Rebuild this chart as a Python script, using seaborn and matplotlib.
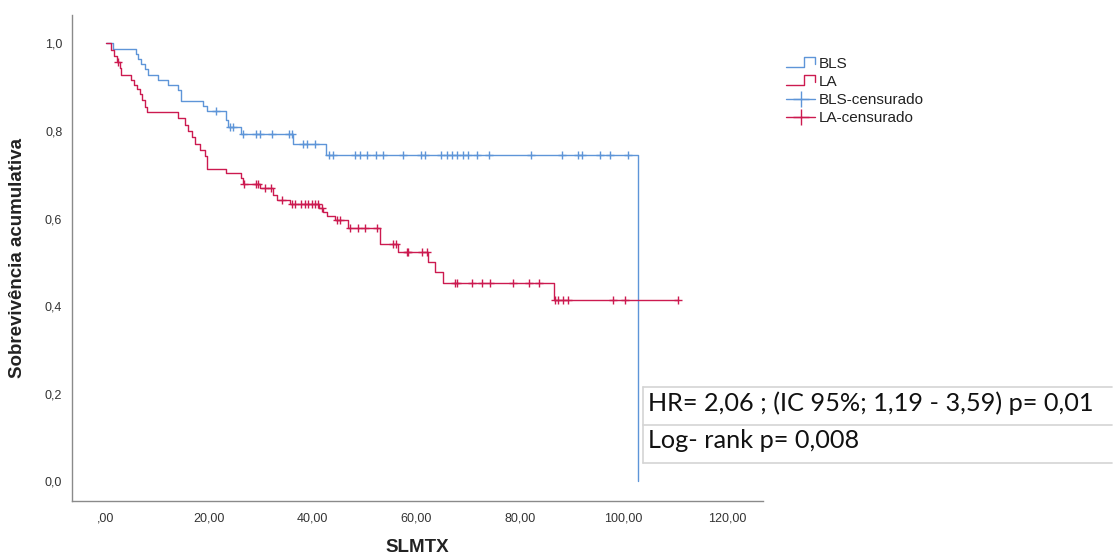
import numpy as np
import pandas as pd
import matplotlib
matplotlib.use("Agg")
import matplotlib.pyplot as plt
from matplotlib.lines import Line2D
from matplotlib.legend_handler import HandlerBase
import seaborn as sns

# ---- Kaplan-Meier data (time in months, survival after each event) ----
groups = ["BLS", "LA"]

bls_event_t = [1.4, 5.9, 6.3, 6.9, 7.5, 8.2, 10.1, 12.0, 14.0, 14.6, 18.8, 19.5,
               23.3, 23.6, 26.2, 36.2, 42.6, 102.8]
bls_surv = [0.988, 0.976, 0.964, 0.953, 0.941, 0.929, 0.917, 0.905, 0.893, 0.869,
            0.857, 0.845, 0.826, 0.810, 0.794, 0.771, 0.745, 0.0]
bls_cens_t = [21.3, 24.0, 24.6, 26.5, 29.1, 29.8, 32.2, 35.4, 35.9, 38.1, 38.8,
              40.4, 43.1, 43.9, 48.1, 49.1, 50.4, 52.2, 53.5, 57.4, 60.9, 61.6,
              64.7, 65.9, 66.9, 67.8, 69.0, 69.9, 71.7, 74.0, 82.1, 88.1, 91.2,
              92.0, 95.5, 97.4, 100.9]

la_event_t = [1.1, 1.7, 2.1, 2.7, 3.0, 4.8, 5.4, 6.0, 6.6, 7.1, 7.5, 7.9, 13.9,
              15.3, 15.9, 16.6, 17.2, 18.2, 19.1, 19.5, 23.3, 26.2, 26.5, 29.8,
              32.3, 33.0, 35.6, 41.2, 41.9, 42.8, 44.3, 46.8, 52.9, 56.5, 62.3,
              63.6, 65.2, 86.6]
la_surv = [0.986, 0.971, 0.957, 0.943, 0.929, 0.917, 0.906, 0.896, 0.884, 0.870,
           0.856, 0.843, 0.829, 0.814, 0.800, 0.786, 0.771, 0.757, 0.743, 0.714,
           0.703, 0.692, 0.680, 0.669, 0.654, 0.643, 0.634, 0.625, 0.615, 0.606,
           0.596, 0.579, 0.543, 0.524, 0.501, 0.478, 0.453, 0.413]
la_cens_t = [2.3, 26.7, 29.1, 29.4, 30.7, 32.0, 34.0, 35.9, 36.6, 37.8, 38.5,
             39.1, 39.8, 40.4, 41.0, 41.7, 44.6, 45.2, 47.1, 48.8, 50.0, 52.3,
             55.4, 56.0, 58.1, 58.4, 61.0, 62.0, 67.4, 67.8, 70.7, 72.6, 74.2,
             78.7, 81.8, 83.7, 86.8, 87.3, 88.3, 89.3, 98.0, 100.3, 110.5]

x_ticks = [0, 20, 40, 60, 80, 100, 120]
x_tick_labels = [",00", "20,00", "40,00", "60,00", "80,00", "100,00", "120,00"]
y_ticks = [0.0, 0.2, 0.4, 0.6, 0.8, 1.0]
y_tick_labels = ["0,0", "0,2", "0,4", "0,6", "0,8", "1,0"]

hr_text = "HR= 2,06 ; (IC 95%; 1,19 - 3,59) p= 0,01"
logrank_text = "Log- rank p= 0,008"

colors = {"BLS": "#5e95d8", "LA": "#cc1a50"}


def step_curve(event_t, surv, cens_t):
    t = [0.0] + list(event_t)
    s = [1.0] + list(surv)
    if cens_t and max(cens_t) > t[-1]:
        t.append(max(cens_t))
        s.append(s[-1])
    return t, s


def censor_points(event_t, surv, cens_t):
    et = np.array(event_t)
    sv = np.concatenate([[1.0], surv])
    idx = np.searchsorted(et, np.array(cens_t), side="right")
    return list(cens_t), list(sv[idx])


curve_rows, cens_rows = [], []
for g, (et, sv, ct) in zip(groups, [(bls_event_t, bls_surv, bls_cens_t),
                                    (la_event_t, la_surv, la_cens_t)]):
    t, s = step_curve(et, sv, ct)
    curve_rows += [{"time": a, "surv": b, "grupo": g} for a, b in zip(t, s)]
    ctt, cs = censor_points(et, sv, ct)
    cens_rows += [{"time": a, "surv": b, "grupo": g} for a, b in zip(ctt, cs)]

curves = pd.DataFrame(curve_rows)
cens = pd.DataFrame(cens_rows)

sns.set_theme(style="white")
plt.rcParams["font.family"] = ["Liberation Sans", "DejaVu Sans"]

W, H = 1119, 558
fig = plt.figure(figsize=(W / 100, H / 100), dpi=100)
ax = fig.add_axes([72 / W, 1 - 501 / H, (763 - 72) / W, (501 - 15) / H])

for g in groups:
    sns.lineplot(data=curves[curves.grupo == g], x="time", y="surv",
                 drawstyle="steps-post", estimator=None, sort=False,
                 color=colors[g], lw=1.0, ax=ax, legend=False)
    sns.scatterplot(data=cens[cens.grupo == g], x="time", y="surv",
                    marker="+", s=40, linewidth=1.0, color=colors[g],
                    ax=ax, legend=False, zorder=3)

ax.set_xlim(-6.5, 126.9)
ax.set_ylim(-0.045, 1.065)
ax.set_xticks(x_ticks)
ax.set_xticklabels(x_tick_labels)
ax.set_yticks(y_ticks)
ax.set_yticklabels(y_tick_labels)
ax.tick_params(axis="both", length=0, labelsize=9, colors="#333333")
ax.tick_params(axis="x", pad=8)
ax.tick_params(axis="y", pad=7)
for side in ["top", "right"]:
    ax.spines[side].set_visible(False)
for side in ["left", "bottom"]:
    ax.spines[side].set_color("#8a8a8a")
    ax.spines[side].set_linewidth(1.0)

ax.set_xlabel("SLMTX", fontsize=13.5, fontweight="bold", color="#222222")
ax.set_ylabel("Sobrevivência acumulativa", fontsize=13.5, fontweight="bold",
              color="#222222")
ax.xaxis.set_label_coords(0.5, -(547 - 501) / 486)
ax.xaxis.label.set_va("center")
ax.yaxis.set_label_coords((18 - 72) / 691, 0.5)
ax.yaxis.label.set_va("center")


class StepHandler(HandlerBase):
    def create_artists(self, legend, orig_handle, xdescent, ydescent, width,
                       height, fontsize, trans):
        x0 = -xdescent
        y0 = -ydescent
        xs = [x0, x0 + 0.62 * width, x0 + 0.62 * width, x0 + width, x0 + width]
        ys = [y0 + 0.1 * height, y0 + 0.1 * height, y0 + 1.0 * height,
              y0 + 1.0 * height, y0 + 0.35 * height]
        ln = Line2D(xs, ys, color=orig_handle.get_color(), lw=1.0,
                    transform=trans)
        return [ln]


h_bls = Line2D([], [], color=colors["BLS"])
h_la = Line2D([], [], color=colors["LA"])
h_bls_c = Line2D([], [], color=colors["BLS"], lw=1.0, marker="+",
                 markersize=12, markeredgewidth=1.0)
h_la_c = Line2D([], [], color=colors["LA"], lw=1.0, marker="+",
                markersize=12, markeredgewidth=1.0)
fig.legend([h_bls, h_la, h_bls_c, h_la_c],
           ["BLS", "LA", "BLS-censurado", "LA-censurado"],
           handler_map={h_bls: StepHandler(), h_la: StepHandler()},
           loc="upper left", bbox_to_anchor=(786 / W, 1 - 57 / H),
           frameon=False, fontsize=11, handlelength=1.9, handletextpad=0.25,
           labelspacing=0.27, borderpad=0, borderaxespad=0, numpoints=1,
           labelcolor="#222222")

# Statistics box
line_kw = dict(color="#d4d4d4", lw=1.2, transform=fig.transFigure)
for yy in [387, 425, 463]:
    fig.add_artist(Line2D([643 / W, 1112 / W], [1 - yy / H, 1 - yy / H], **line_kw))
fig.add_artist(Line2D([643 / W, 643 / W], [1 - 387 / H, 1 - 463 / H], **line_kw))
fig.text(648 / W, 1 - 403 / H, hr_text, fontsize=18.2, family="Lato",
         color="#111111", ha="left", va="center")
fig.text(648 / W, 1 - 441 / H, logrank_text, fontsize=18.2, family="Lato",
         color="#111111", ha="left", va="center")

fig.savefig("out.png", dpi=100, facecolor="white")
